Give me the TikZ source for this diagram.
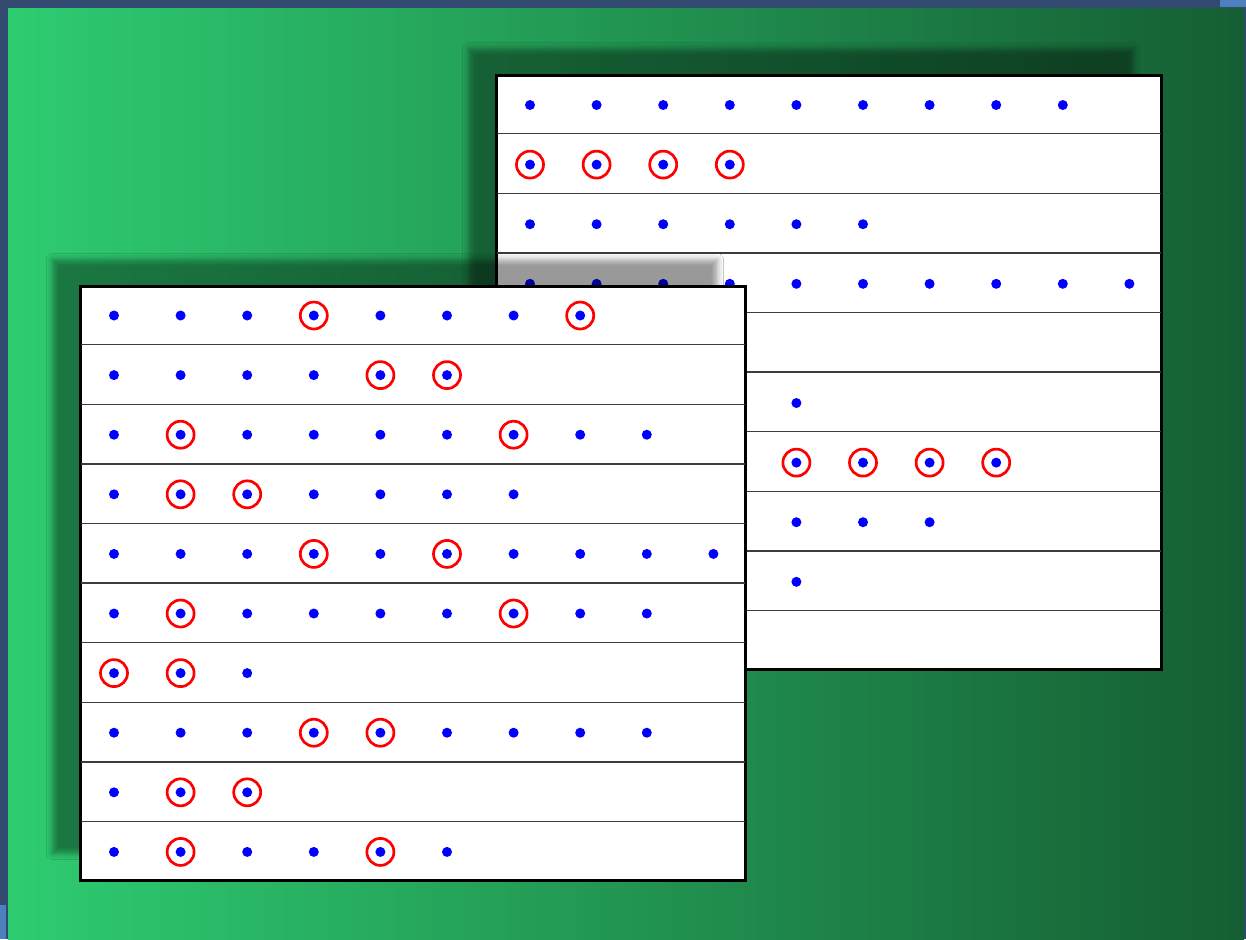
\documentclass[tikz,border=0pt]{standalone}
\usetikzlibrary{shadows.blur}
\definecolor{frameblue}{RGB}{50,74,112}
\definecolor{cornerblue}{RGB}{78,128,192}
\definecolor{lightgreen}{RGB}{46,204,113}
\definecolor{darkgreen}{RGB}{21,94,51}
\definecolor{rowgray}{RGB}{60,60,60}
\tikzset{
  sheet/.style={draw=black, line width=1.5pt, fill=white, inner sep=0pt,
    minimum width=332.5pt, minimum height=297pt, anchor=north west,
    blur shadow={shadow xshift=-14pt, shadow yshift=13.5pt,
      shadow blur radius=3pt, shadow opacity=40}},
  rowrule/.style={draw=rowgray, line width=0.7pt},
  dot/.style={fill=blue},
  ring/.style={draw=red, line width=1.35pt}
}
\begin{document}
\begin{tikzpicture}[x=0.5pt,y=-0.5pt]
\useasboundingbox (0,0) rectangle (1246,939);
% frame and background
\fill[frameblue] (0,0) rectangle (1246,939);
\fill[cornerblue] (1220,0) rectangle (1246,7);
\fill[cornerblue] (0,905) rectangle (6,939);
\shade[left color=lightgreen, right color=darkgreen] (8,8) rectangle (1244,939);

% back sheet
\node[sheet] (back) at (495,74) {};
\begin{scope}[shift={(back.north west)}]
\foreach \r in {1,...,9}
  \draw[rowrule] (2,59.6*\r) -- (666,59.6*\r);
\foreach \n/\marks [count=\r] in {9/{0},4/{1,2,3,4},6/{0},10/{0},0/{0},5/{0},8/{5,6,7,8},7/{0},5/{0},0/{0}} {
  \ifnum\n>0
    \foreach \c in {1,...,\n}
      \fill[dot] (35+66.6*\c-66.6,31+59.6*\r-59.6) circle[radius=5];
  \fi
  \foreach \c in \marks {
    \ifnum\c>0
      \draw[ring] (35+66.6*\c-66.6,31+59.6*\r-59.6) circle[radius=13.5];
    \fi
  }
}
\end{scope}

% front sheet
\node[sheet] (front) at (79,285) {};
\begin{scope}[shift={(front.north west)}]
\foreach \r in {1,...,9}
  \draw[rowrule] (2,59.6*\r) -- (666,59.6*\r);
\foreach \n/\marks [count=\r] in {8/{4,8},6/{5,6},9/{2,7},7/{2,3},10/{4,6},9/{2,7},3/{1,2},9/{4,5},3/{2,3},6/{2,5}} {
  \foreach \c in {1,...,\n}
    \fill[dot] (35+66.6*\c-66.6,30.5+59.6*\r-59.6) circle[radius=5];
  \foreach \c in \marks
    \draw[ring] (35+66.6*\c-66.6,30.5+59.6*\r-59.6) circle[radius=13.5];
}
\end{scope}
\end{tikzpicture}
\end{document}
